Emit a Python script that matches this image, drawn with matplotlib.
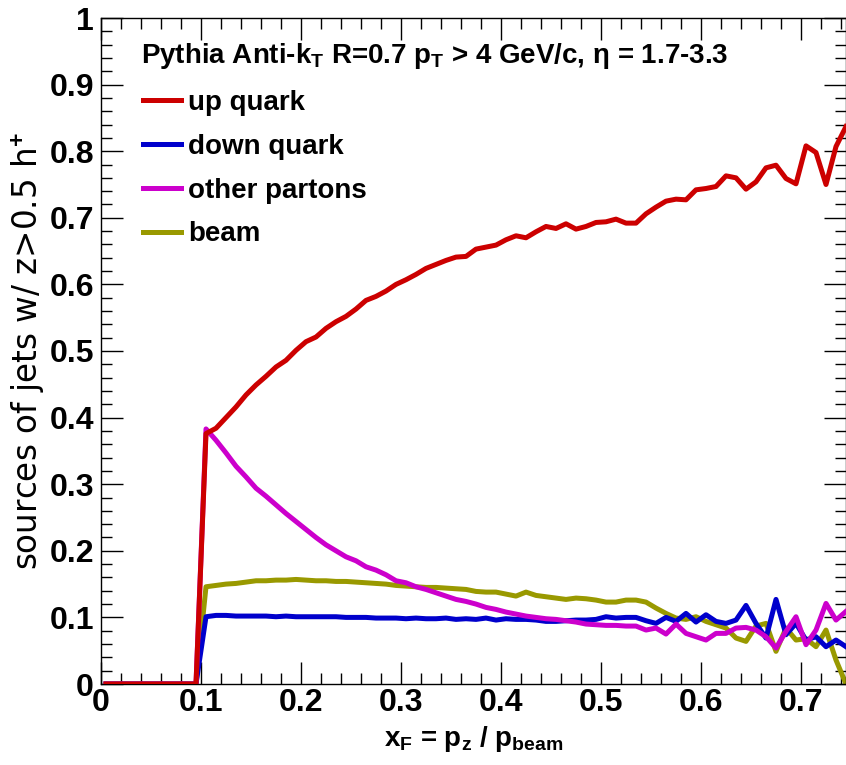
import matplotlib
matplotlib.use("Agg")
import matplotlib.pyplot as plt
from matplotlib.ticker import MultipleLocator

plt.rcParams['font.family'] = ['Liberation Sans', 'DejaVu Sans']
plt.rcParams['mathtext.fontset'] = 'custom'
plt.rcParams['mathtext.rm'] = 'Liberation Sans:bold'
plt.rcParams['mathtext.it'] = 'Liberation Sans:bold'
plt.rcParams['mathtext.bf'] = 'Liberation Sans:bold'

# bin centers of x_F
xF = [0.005, 0.015, 0.025, 0.035, 0.045, 0.055, 0.065, 0.075, 0.085, 0.095,
      0.105, 0.115, 0.125, 0.135, 0.145, 0.155, 0.165, 0.175, 0.185, 0.195,
      0.205, 0.215, 0.225, 0.235, 0.245, 0.255, 0.265, 0.275, 0.285, 0.295,
      0.305, 0.315, 0.325, 0.335, 0.345, 0.355, 0.365, 0.375, 0.385, 0.395,
      0.405, 0.415, 0.425, 0.435, 0.445, 0.455, 0.465, 0.475, 0.485, 0.495,
      0.505, 0.515, 0.525, 0.535, 0.545, 0.555, 0.565, 0.575, 0.585, 0.595,
      0.605, 0.615, 0.625, 0.635, 0.645, 0.655, 0.665, 0.675, 0.685, 0.695,
      0.705, 0.715, 0.725, 0.735, 0.745]

zeros10 = [0, 0, 0, 0, 0, 0, 0, 0, 0, 0]

up_quark = zeros10 + [
    0.376, 0.384, 0.400, 0.416, 0.434, 0.449, 0.462, 0.476, 0.486, 0.501,
    0.514, 0.521, 0.534, 0.544, 0.552, 0.563, 0.576, 0.582, 0.590, 0.600,
    0.607, 0.615, 0.624, 0.630, 0.636, 0.641, 0.642, 0.653, 0.656, 0.659,
    0.667, 0.673, 0.670, 0.679, 0.687, 0.684, 0.691, 0.683, 0.687, 0.693,
    0.694, 0.698, 0.692, 0.692, 0.706, 0.716, 0.725, 0.728, 0.727, 0.742,
    0.744, 0.747, 0.763, 0.760, 0.743, 0.754, 0.775, 0.779, 0.759, 0.751,
    0.808, 0.798, 0.750, 0.807, 0.837]

down_quark = zeros10 + [
    0.101, 0.103, 0.103, 0.102, 0.102, 0.102, 0.102, 0.101, 0.102, 0.101,
    0.101, 0.101, 0.101, 0.101, 0.100, 0.100, 0.100, 0.099, 0.099, 0.099,
    0.098, 0.099, 0.098, 0.098, 0.099, 0.097, 0.098, 0.097, 0.099, 0.096,
    0.098, 0.097, 0.097, 0.096, 0.094, 0.094, 0.095, 0.096, 0.096, 0.097,
    0.101, 0.099, 0.100, 0.100, 0.095, 0.091, 0.100, 0.094, 0.106, 0.093,
    0.104, 0.094, 0.091, 0.096, 0.118, 0.091, 0.069, 0.127, 0.074, 0.091,
    0.066, 0.071, 0.056, 0.066, 0.056]

other_partons = zeros10 + [
    0.383, 0.366, 0.347, 0.327, 0.311, 0.294, 0.282, 0.269, 0.256, 0.244,
    0.232, 0.220, 0.209, 0.200, 0.191, 0.185, 0.176, 0.171, 0.164, 0.155,
    0.152, 0.146, 0.142, 0.137, 0.132, 0.127, 0.124, 0.120, 0.115, 0.112,
    0.108, 0.105, 0.102, 0.100, 0.098, 0.097, 0.095, 0.093, 0.090, 0.089,
    0.088, 0.088, 0.087, 0.087, 0.081, 0.084, 0.075, 0.090, 0.076, 0.071,
    0.066, 0.076, 0.076, 0.084, 0.085, 0.081, 0.071, 0.054, 0.079, 0.101,
    0.059, 0.081, 0.121, 0.096, 0.109]

beam = zeros10 + [
    0.146, 0.148, 0.150, 0.151, 0.153, 0.155, 0.155, 0.156, 0.156, 0.157,
    0.156, 0.155, 0.155, 0.154, 0.154, 0.153, 0.152, 0.151, 0.150, 0.148,
    0.147, 0.146, 0.145, 0.145, 0.144, 0.143, 0.142, 0.139, 0.138, 0.138,
    0.135, 0.132, 0.138, 0.133, 0.131, 0.129, 0.127, 0.129, 0.128, 0.126,
    0.123, 0.123, 0.126, 0.126, 0.123, 0.114, 0.106, 0.099, 0.097, 0.101,
    0.094, 0.089, 0.084, 0.069, 0.064, 0.087, 0.091, 0.049, 0.084, 0.066,
    0.068, 0.056, 0.081, 0.036, 0.000]

labels = ['up quark', 'down quark', 'other partons', 'beam']
colors = ['#cc0000', '#0000cc', '#cc00cc', '#999900']

W, H = 846, 765
fig = plt.figure(figsize=(W / 100, H / 100), dpi=100)
ax = fig.add_axes([101 / W, 1 - 684 / H, (846 - 101) / W, (684 - 18) / H])

lw = 3.6
lb, = ax.plot(xF, beam, color=colors[3], lw=lw, zorder=2)
ld, = ax.plot(xF, down_quark, color=colors[1], lw=lw, zorder=3)
lo, = ax.plot(xF, other_partons, color=colors[2], lw=lw, zorder=3)
lu, = ax.plot(xF, up_quark, color=colors[0], lw=lw, zorder=4)

ax.set_xlim(0, 0.745)
ax.set_ylim(0, 1)
ax.xaxis.set_minor_locator(MultipleLocator(0.02))
ax.yaxis.set_minor_locator(MultipleLocator(0.02))
ax.set_xticks([0, 0.1, 0.2, 0.3, 0.4, 0.5, 0.6, 0.7])
ax.set_xticklabels(['0', '0.1', '0.2', '0.3', '0.4', '0.5', '0.6', '0.7'])
ax.set_yticks([0, 0.1, 0.2, 0.3, 0.4, 0.5, 0.6, 0.7, 0.8, 0.9, 1.0])
ax.set_yticklabels(['0', '0.1', '0.2', '0.3', '0.4', '0.5', '0.6', '0.7', '0.8', '0.9', '1'])
ax.tick_params(which='both', direction='in', top=True, right=True, width=1, color='black')
ax.tick_params(axis='y', which='major', length=16)
ax.tick_params(axis='y', which='minor', length=8)
ax.tick_params(axis='x', which='major', length=16)
ax.tick_params(axis='x', which='minor', length=8)
for lab in ax.get_xticklabels() + ax.get_yticklabels():
    lab.set_fontweight('bold')
    lab.set_fontsize(23)
ax.tick_params(axis='x', pad=3)
ax.tick_params(axis='y', pad=5)
for s in ax.spines.values():
    s.set_linewidth(1)

ax.set_xlabel(r'x$_{\mathregular{F}}$ = p$_{\mathregular{z}}$ / p$_{\mathregular{beam}}$',
              fontsize=20, fontweight='bold', labelpad=4)
ax.set_ylabel(r'sources of jets w/ z>0.5 h$^{+}$', fontsize=23.5, labelpad=2,
              family=['DejaVu Sans'])

fig.text(141 / W, 1 - 63 / H,
         r'Pythia Anti-k$_{\mathregular{T}}$ R=0.7 p$_{\mathregular{T}}$ > 4 GeV/c, η = 1.7-3.3',
         fontsize=20, fontweight='bold', ha='left', va='baseline')

leg = ax.legend([lu, ld, lo, lb], labels, loc='upper left',
                bbox_to_anchor=(143 / W, 1 - 90 / H), bbox_transform=fig.transFigure,
                frameon=False, prop={'weight': 'bold', 'size': 20},
                handlelength=1.35, handletextpad=0.27, labelspacing=0.64,
                borderpad=0, borderaxespad=0)

fig.savefig('out.png', dpi=100)
